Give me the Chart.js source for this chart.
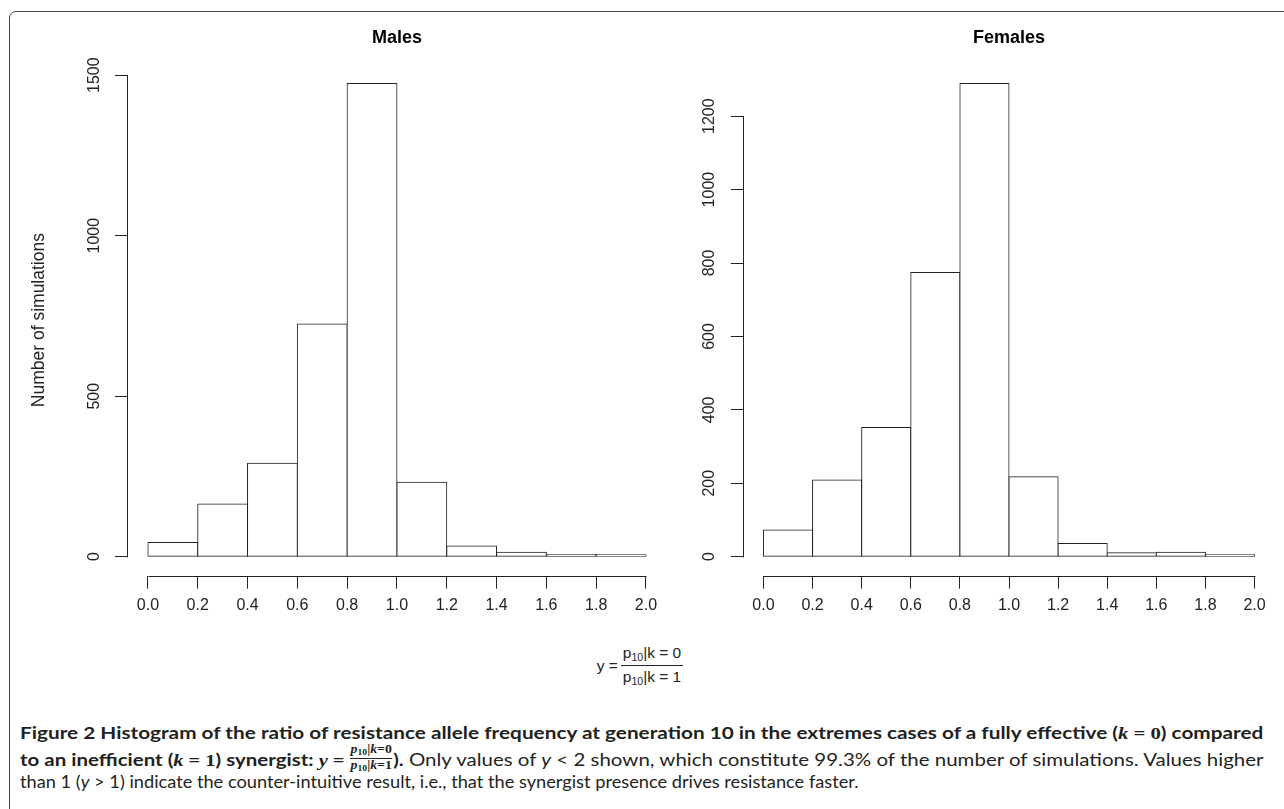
<!DOCTYPE html>
<html>
<head>
<meta charset="utf-8">
<script src="https://cdn.jsdelivr.net/npm/chart.js@4.4.1/dist/chart.umd.min.js"></script>
<style>
  body { margin:0; background:#fff; width:1284px; height:809px; overflow:hidden; position:relative; font-family:"Liberation Sans", Arial, sans-serif; }
  #frame { position:absolute; left:9px; top:11px; width:1300px; height:840px; border:1px solid #444; border-radius:7px; }
  .wrap { position:absolute; top:0; height:640px; }
  #mWrap { left:0; width:690px; }
  #fWrap { left:690px; width:594px; }
  #formula { position:absolute; left:0; width:1280px; top:642px; display:flex; justify-content:center; align-items:center; font-size:15.5px; color:#222; }
  .frac { display:inline-flex; flex-direction:column; align-items:center; margin-left:3px; }
  .frac span { padding:2px 2px; white-space:nowrap; }
  .frac .den { border-top:1px solid #222; }
  sub { font-size:10.5px; vertical-align:-3px; }
  .cap { position:absolute; left:20px; white-space:nowrap; font-family:"Lato", sans-serif; font-size:17px; color:#231f20; transform-origin:0 50%; line-height:22px; }
  .b { font-weight:bold; }
  .m { font-family:"Liberation Serif", serif; }
  .mi { font-family:"Liberation Serif", serif; font-style:italic; }
  .ifrac { display:inline-flex; flex-direction:column; align-items:center; vertical-align:middle; position:relative; top:-3px; font-family:"Liberation Serif", serif; font-size:11.5px; line-height:10px; font-weight:bold; margin:0 1px; }
  .ifrac .den { border-top:1px solid #231f20; padding-top:1px; }
  .ifrac sub { font-size:8px; vertical-align:-2px; }
</style>
</head>
<body>
<div id="frame"></div>
<div class="wrap" id="mWrap"><canvas id="males" width="690" height="640"></canvas></div>
<div class="wrap" id="fWrap"><canvas id="females" width="594" height="640"></canvas></div>

<div id="formula">
  <span>y =</span>
  <span class="frac"><span class="num">p<sub>10</sub>|k = 0</span><span class="den">p<sub>10</sub>|k = 1</span></span>
</div>

<div class="cap" id="cap1" style="top:722px"><span class="b">Figure 2 Histogram of the ratio of resistance allele frequency at generation 10 in the extremes cases of a fully effective (<span class="mi">k</span> <span class="m">= 0</span>) compared</span></div>
<div class="cap" id="cap2" style="top:747px"><span class="b">to an inefficient (<span class="mi">k</span> <span class="m">= 1</span>) synergist: <span class="mi">y</span> <span class="m">=</span> <span class="ifrac"><span class="num"><i>p</i><sub>10</sub>|<i>k</i>=0</span><span class="den"><i>p</i><sub>10</sub>|<i>k</i>=1</span></span>).</span> Only values of <i>y</i> &lt; 2 shown, which constitute 99.3% of the number of simulations. Values higher</div>
<div class="cap" id="cap3" style="top:771px">than 1 (<i>y</i> &gt; 1) indicate the counter-intuitive result, i.e., that the synergist presence drives resistance faster.</div>

<script>
// histogram bins (ratio y), counts
var binEdges = [0.0, 0.2, 0.4, 0.6, 0.8, 1.0, 1.2, 1.4, 1.6, 1.8, 2.0];
var maleCounts = [44, 164, 291, 725, 1474, 232, 33, 14, 7, 6];
var femaleCounts = [73, 209, 352, 774, 1289, 218, 36, 11, 12, 5];
var maleTicksY = [0, 500, 1000, 1500];
var femaleTicksY = [0, 200, 400, 600, 800, 1000, 1200];

var FONT = '"Liberation Sans", Arial, sans-serif';
var INK = '#222';

// R style axes: line only from first to last tick
var axisLines = {
  id: 'axisLines',
  afterDraw: function(chart) {
    var ctx = chart.ctx, sx = chart.scales.x, sy = chart.scales.y;
    var xt = sx.ticks, yt = sy.ticks;
    var yb = Math.round(sx.top) + 0.5;
    var xl = Math.round(sy.right) - 0.5;
    ctx.save();
    ctx.strokeStyle = INK;
    ctx.lineWidth = 1;
    ctx.beginPath();
    ctx.moveTo(Math.round(sx.getPixelForValue(xt[0].value)) + 0.5, yb);
    ctx.lineTo(Math.round(sx.getPixelForValue(xt[xt.length - 1].value)) + 0.5, yb);
    ctx.moveTo(xl, Math.round(sy.getPixelForValue(yt[0].value)) + 0.5);
    ctx.lineTo(xl, Math.round(sy.getPixelForValue(yt[yt.length - 1].value)) + 0.5);
    ctx.stroke();
    ctx.restore();
  }
};

function hist(id, title, counts, yTicks, yWidth, padRight, yTitle) {
  var top = Math.max.apply(null, counts);
  var pts = [];
  for (var i = 0; i < counts.length; i++) {
    pts.push({ x: (binEdges[i] + binEdges[i + 1]) / 2, y: counts[i] });
  }
  return new Chart(document.getElementById(id), {
    type: 'bar',
    data: {
      datasets: [{
        data: pts,
        backgroundColor: '#fff',
        borderColor: INK,
        borderWidth: 1,
        borderSkipped: false,
        inflateAmount: 0.5,
        barPercentage: 1,
        categoryPercentage: 1
      }]
    },
    options: {
      responsive: false,
      animation: false,
      layout: { padding: { left: 0, right: padRight, top: 0, bottom: 0 } },
      plugins: {
        legend: { display: false },
        tooltip: { enabled: false },
        title: {
          display: true,
          text: title,
          fullSize: false,
          color: '#000',
          font: { family: FONT, size: 18, weight: 'bold' },
          padding: { top: 27, bottom: 16 }
        }
      },
      scales: {
        x: {
          type: 'linear',
          offset: false,
          min: -0.08,
          max: 2.08,
          afterBuildTicks: function(s) { s.ticks = binEdges.map(function(v) { return { value: v }; }); },
          afterFit: function(s) { s.height = 64.4; },
          ticks: {
            color: INK,
            font: { family: FONT, size: 16 },
            padding: 7,
            maxRotation: 0,
            autoSkip: false,
            callback: function(v) { return v.toFixed(1); }
          },
          grid: { offset: false, drawOnChartArea: false, drawTicks: true, tickLength: 13, color: INK, lineWidth: 1 },
          border: { display: false }
        },
        y: {
          type: 'linear',
          min: -0.04 * top,
          max: 1.04 * top,
          afterBuildTicks: function(s) { s.ticks = yTicks.map(function(v) { return { value: v }; }); },
          afterFit: function(s) { s.width = yWidth; },
          ticks: {
            color: INK,
            font: { family: FONT, size: 16 },
            minRotation: 90,
            maxRotation: 90,
            crossAlign: 'center',
            padding: 3,
            callback: function(v) { return String(v); }
          },
          grid: { drawOnChartArea: false, drawTicks: true, tickLength: 13, color: INK, lineWidth: 1 },
          border: { display: false },
          title: {
            display: !!yTitle,
            text: yTitle || '',
            color: INK,
            font: { family: FONT, size: 17.5 },
            padding: { top: 29, bottom: 0 }
          }
        }
      }
    },
    plugins: [axisLines]
  });
}

hist('males', 'Males', maleCounts, maleTicksY, 128, 24.1, 'Number of simulations');
hist('females', 'Females', femaleCounts, femaleTicksY, 53.8, 9.8, null);

// stretch caption lines to the justified widths of the original
function fitCaption() {
  var targets = { cap1: 1243, cap2: 1243, cap3: 838 };
  Object.keys(targets).forEach(function(k) {
    var el = document.getElementById(k);
    var w = el.scrollWidth;
    el.style.transform = 'scaleX(' + (targets[k] / w) + ')';
  });
}
if (document.fonts && document.fonts.ready) document.fonts.ready.then(fitCaption); else fitCaption();
</script>
</body>
</html>
